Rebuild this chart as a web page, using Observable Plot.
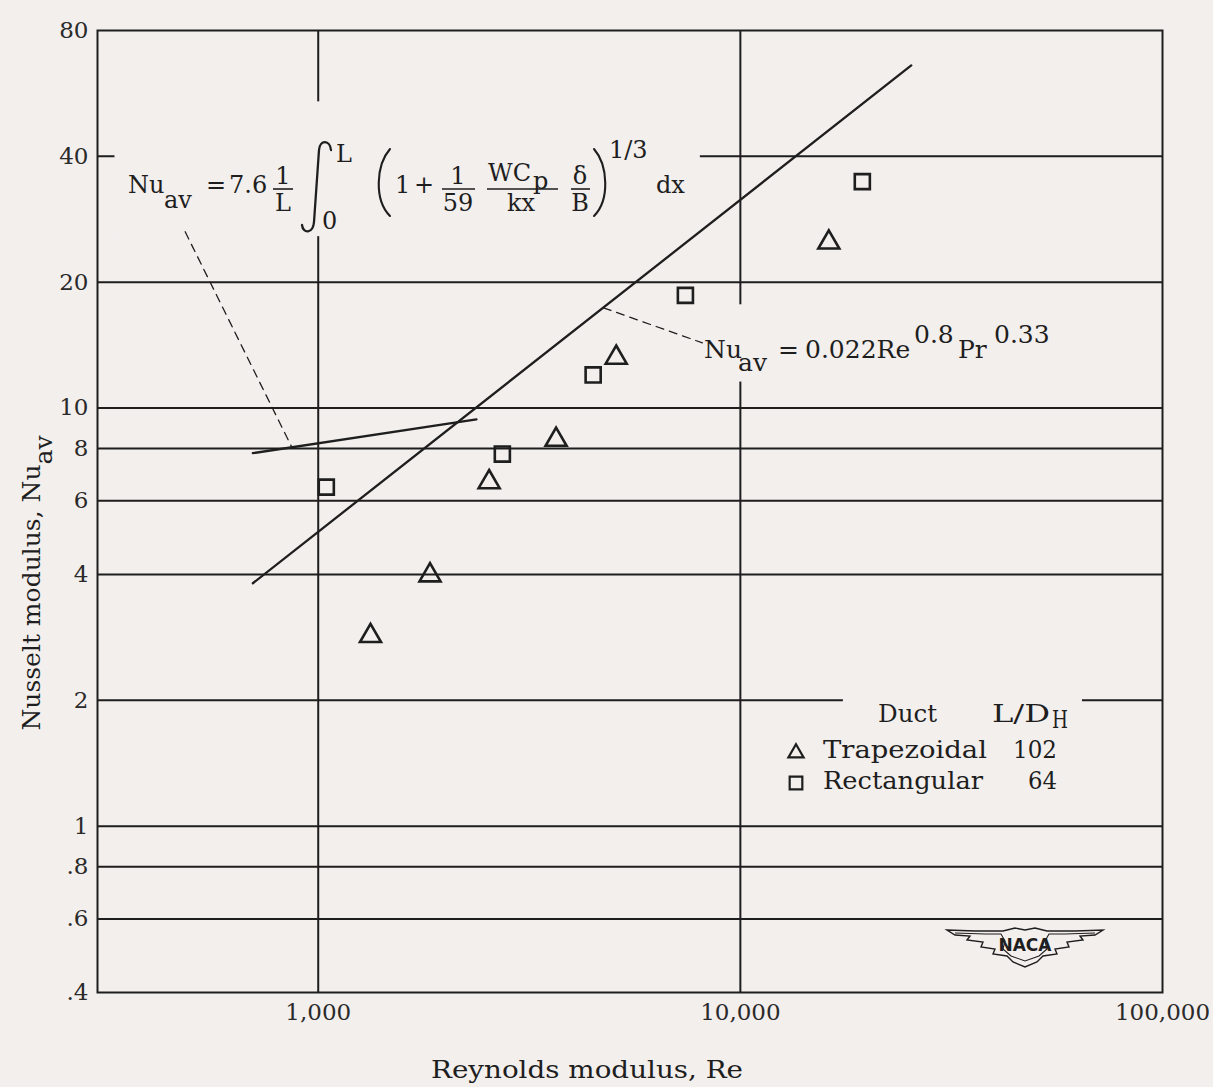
<!DOCTYPE html>
<html><head><meta charset="utf-8">
<script src="https://cdn.jsdelivr.net/npm/d3@7"></script>
<script src="https://cdn.jsdelivr.net/npm/@observablehq/plot@0.6"></script>
<style>
html,body{margin:0;padding:0;background:#f3efed;}
#chart{width:1213px;height:1087px;}
</style></head><body><div id="chart"></div>
<script>
const BG = "#f3efed", INK = "#1e1e1e";
// data
const trapRe = [1330, 1840, 2540, 3660, 5080, 16200];
const trapNu = [2.85, 3.98, 6.65, 8.4, 13.2, 24.9];
const rectRe = [1045, 2730, 4480, 7410, 19450];
const rectNu = [6.47, 7.76, 12.0, 18.6, 34.8];
const turbRe = [700, 25400];
const turbNu = [3.81, 66.0];
const lamRe = [700, 2370];
const lamNu = [7.8, 9.4];
const leadLamRe = [484, 868];
const leadLamNu = [26.4, 8.02];
const leadTurbRe = [4736, 8128];
const leadTurbNu = [17.37, 14.32];
// axes
const xTicks = [1000, 10000, 100000];
const yTicks = [0.4, 0.6, 0.8, 1, 2, 4, 6, 8, 10, 20, 40, 80];
const yGrid = [0.6, 0.8, 1, 2, 4, 6, 8, 10, 20, 40];
const xGrid = [1000, 10000];
// annotation backgrounds (formula 1, formula 2, legend) in data units
const boxRe1 = [330, 7820, 17540];
const boxRe2 = [8040, 57300, 64620];
const boxNu1 = [25.7, 11.54, 1.148];
const boxNu2 = [54.0, 17.66, 2.228];

const trap = trapRe.map((re, i) => ({re, nu: trapNu[i]}));
const rect = rectRe.map((re, i) => ({re, nu: rectNu[i]}));
const turb = turbRe.map((re, i) => ({re, nu: turbNu[i]}));
const lam = lamRe.map((re, i) => ({re, nu: lamNu[i]}));
const leadLam = leadLamRe.map((re, i) => ({re, nu: leadLamNu[i]}));
const leadTurb = leadTurbRe.map((re, i) => ({re, nu: leadTurbNu[i]}));
const boxes = boxRe1.map((x1, i) => ({x1, x2: boxRe2[i], y1: boxNu1[i], y2: boxNu2[i]}));

const SERIF = "'DejaVu Serif', 'Liberation Serif', serif";
const yFmt = d => d < 1 ? String(d).replace(/^0/, "") : String(d);

const chart = Plot.plot({
  width: 1213, height: 1087,
  marginLeft: 97, marginRight: 51, marginTop: 30, marginBottom: 95,
  style: {background: "transparent", fontFamily: SERIF, fontSize: "23px", color: INK},
  x: {type: "log", domain: [300, 100000]},
  y: {type: "log", domain: [0.4, 80]},
  marks: [
    Plot.ruleY(yGrid, {stroke: INK, strokeWidth: 2}),
    Plot.ruleX(xGrid, {stroke: INK, strokeWidth: 2}),
    Plot.rect(boxes, {x1: "x1", x2: "x2", y1: "y1", y2: "y2", fill: BG}),
    Plot.frame({stroke: INK, strokeWidth: 2}),
    Plot.line(turb, {x: "re", y: "nu", stroke: INK, strokeWidth: 2.3}),
    Plot.line(lam, {x: "re", y: "nu", stroke: INK, strokeWidth: 2.3}),
    Plot.line(leadLam, {x: "re", y: "nu", stroke: INK, strokeWidth: 1.3, strokeDasharray: "8,6"}),
    Plot.line(leadTurb, {x: "re", y: "nu", stroke: INK, strokeWidth: 1.3, strokeDasharray: "8,6"}),
    Plot.dot(trap, {x: "re", y: "nu", symbol: "triangle", r: 7.8, stroke: INK, strokeWidth: 2.6, fill: "none"}),
    Plot.dot(rect, {x: "re", y: "nu", symbol: "square", r: 8.5, stroke: INK, strokeWidth: 2.6, fill: "none"}),
    Plot.axisX(xTicks, {tickSize: 0, tickPadding: 11, tickFormat: d3.format(","), fontSize: 23, label: null, fill: "#2a2a2a"}),
    Plot.axisY(yTicks, {tickSize: 0, tickPadding: 9, tickFormat: yFmt, fontSize: 23, label: null, fill: "#2a2a2a"})
  ]
});
document.getElementById("chart").appendChild(chart);

// ---- text annotations ----
const svg = d3.select(chart);
const g = svg.append("g").attr("font-family", SERIF).attr("fill", INK);
function T(str, x, y, size = 25, len = null, anchor = "start") {
  const e = g.append("text").attr("x", x).attr("y", y).attr("font-size", size).attr("text-anchor", anchor).text(str);
  if (len) e.attr("textLength", len).attr("lengthAdjust", "spacingAndGlyphs");
  return e;
}
function hl(x1, x2, y) {
  g.append("line").attr("x1", x1).attr("x2", x2).attr("y1", y).attr("y2", y).attr("stroke", INK).attr("stroke-width", 1.6);
}
function stroke(d, w = 2.1) {
  g.append("path").attr("d", d).attr("fill", "none").attr("stroke", INK).attr("stroke-width", w).attr("stroke-linecap", "round");
}
// axis titles
T("Reynolds modulus, Re", 587, 1078, 25, 312, "middle");
const yl = g.append("text").attr("transform", "translate(40,583) rotate(-90)").attr("text-anchor", "middle").attr("font-size", 25);
yl.append("tspan").text("Nusselt modulus, Nu");
yl.append("tspan").attr("dy", 12).text("av");

// formula 1 (laminar)
{
  const B = 193, s = 24, N = B - 9, D = B + 18, bar = B - 4;
  T("Nu", 128, B, s); T("av", 164, B + 15, s);
  T("=", 206, B, s); T("7.6", 229, B, s);
  T("1", 283, N, s, null, "middle"); hl(273, 293, bar); T("L", 283, D, s, null, "middle");
  // integral sign (hand drawn in the original) and its limits
  stroke("M 331,150 C 330,140 320,139 319,150 L 314,222 C 313,234 303,234 302,225", 2.3);
  T("L", 336, 162, s); T("0", 322, 229, s);
  stroke("M 390,149 C 376,165 374,200 390,216");
  T("1", 395, B, s); T("+", 414, B, s);
  T("1", 458, N, s, null, "middle"); hl(442, 475, bar); T("59", 458, D, s, null, "middle");
  T("WC", 488, N - 3, s); T("p", 533, N + 5, s); hl(487, 558, bar); T("kx", 521, D, s, null, "middle");
  T("\u03B4", 580, N, s, null, "middle"); hl(571, 590, bar); T("B", 580, D, s, null, "middle");
  stroke("M 594,149 C 608,165 610,200 594,216");
  T("1/3", 609, 158, s);
  T("dx", 656, B, s);
}
// formula 2 (turbulent)
{
  const B = 358, s = 25;
  T("Nu", 704, B, s); T("av", 738, B + 13, s);
  T("=", 778, B, s); T("0.022Re", 805, B, s);
  T("0.8", 914, B - 15, s);
  T("Pr", 958, B, s);
  T("0.33", 994, B - 15, s);
}
// legend
{
  T("Duct", 878, 722, 25, 59); T("L/D", 992, 722, 25, 58); T("H", 1052, 728, 25, 16);
  T("Trapezoidal", 823, 758, 25, 164); T("102", 1013, 758, 25, 44);
  T("Rectangular", 823, 789, 25, 160); T("64", 1028, 789, 25, 29);
  g.append("path").attr("d", d3.symbol(d3.symbolTriangle, 100)()).attr("transform", "translate(796,753)")
    .attr("fill", "none").attr("stroke", INK).attr("stroke-width", 2.2);
  g.append("path").attr("d", d3.symbol(d3.symbolSquare, 160)()).attr("transform", "translate(796,783)")
    .attr("fill", "none").attr("stroke", INK).attr("stroke-width", 2.2);
}
// NACA wings logo
{
  const cx = 1025, cy = 944;
  const outer = [[-78,-14],[-50,-13],[-22,-13],[-10,-16],[0,-14],[10,-16],[22,-13],[50,-13],[78,-14],
    [70,-9],[55,-8],[58,-4],[42,-2],[44,3],[30,5],[32,10],[18,12],[12,18],[0,23],[-12,18],[-18,12],[-32,10],
    [-30,5],[-44,3],[-42,-2],[-58,-4],[-55,-8],[-70,-9]];
  const inner = [[-70,-11],[-40,-10],[-24,-10],[-20,-3],[-22,5],[-14,12],[0,17],[14,12],[22,5],[20,-3],[24,-10],[40,-10],[70,-11]];
  const line = d3.line();
  g.append("path").attr("d", line(outer.map(([x,y]) => [cx + x, cy + y])) + "Z")
    .attr("fill", "none").attr("stroke", INK).attr("stroke-width", 1.4);
  g.append("path").attr("d", line(inner.map(([x,y]) => [cx + x, cy + y])))
    .attr("fill", "none").attr("stroke", INK).attr("stroke-width", 1.1);
  g.append("text").attr("x", cx).attr("y", cy + 7).attr("text-anchor", "middle")
    .attr("font-family", "'DejaVu Sans', sans-serif").attr("font-weight", "bold").attr("font-size", 17).text("NACA");
}
</script></body></html>
